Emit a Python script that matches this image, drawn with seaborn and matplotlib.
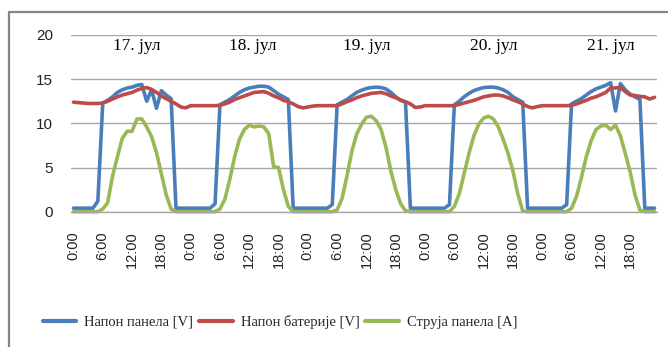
import numpy as np
import pandas as pd
import matplotlib
matplotlib.use("Agg")
import matplotlib.pyplot as plt
from matplotlib.lines import Line2D
import seaborn as sns

# Hourly readings, five days (17-21 July)
napon_panela = [
    0.4, 0.4, 0.4, 0.4, 0.4, 1.2, 12.3, 12.6, 13.0, 13.5, 13.8, 14.0, 14.1, 14.3, 14.4, 12.5, 13.8, 11.7, 13.7, 13.2, 12.8, 0.4, 0.4, 0.4,
    0.4, 0.4, 0.4, 0.4, 0.4, 0.9, 12.1, 12.4, 12.7, 13.1, 13.5, 13.8, 14.0, 14.1, 14.2, 14.2, 14.1, 13.7, 13.3, 13.0, 12.7, 0.4, 0.4, 0.4,
    0.4, 0.4, 0.4, 0.4, 0.4, 0.8, 12.1, 12.4, 12.7, 13.1, 13.5, 13.75, 13.95, 14.05, 14.1, 14.05, 13.9, 13.5, 13.0, 12.6, 12.4, 0.4, 0.4, 0.4,
    0.4, 0.4, 0.4, 0.4, 0.4, 0.8, 12.1, 12.5, 13.0, 13.4, 13.7, 13.9, 14.05, 14.1, 14.1, 14.0, 13.8, 13.5, 13.0, 12.7, 12.4, 0.4, 0.4, 0.4,
    0.4, 0.4, 0.4, 0.4, 0.4, 0.8, 12.2, 12.5, 12.8, 13.2, 13.6, 13.9, 14.1, 14.3, 14.6, 11.4, 14.5, 13.8, 13.3, 13.0, 12.7, 0.4, 0.4, 0.4,
]
napon_baterije = [
    12.4, 12.35, 12.3, 12.25, 12.25, 12.25, 12.3, 12.5, 12.75, 13.0, 13.2, 13.35, 13.5, 13.75, 13.95, 14.05, 13.85, 13.5, 13.1, 12.8, 12.5, 12.2, 11.85, 11.75,
    12.0, 12.0, 12.0, 12.0, 12.0, 12.0, 12.05, 12.2, 12.4, 12.7, 12.9, 13.1, 13.3, 13.5, 13.55, 13.6, 13.4, 13.1, 12.9, 12.6, 12.45, 12.2, 11.9, 11.75,
    11.85, 11.95, 12.0, 12.0, 12.0, 12.0, 12.0, 12.2, 12.45, 12.65, 12.9, 13.1, 13.25, 13.4, 13.45, 13.5, 13.35, 13.1, 12.9, 12.65, 12.45, 12.2, 11.8, 11.85,
    12.0, 12.0, 12.0, 12.0, 12.0, 12.0, 12.0, 12.15, 12.3, 12.45, 12.6, 12.8, 13.0, 13.1, 13.2, 13.2, 13.1, 12.9, 12.65, 12.45, 12.2, 11.9, 11.75, 11.9,
    12.0, 12.0, 12.0, 12.0, 12.0, 12.0, 12.05, 12.2, 12.4, 12.6, 12.85, 13.0, 13.25, 13.5, 14.0, 14.0, 14.05, 13.6, 13.2, 13.15, 13.05, 13.0, 12.75, 12.95,
]
struja_panela = [
    0, 0, 0, 0, 0, 0, 0.3, 1.0, 4.0, 6.2, 8.3, 9.1, 9.1, 10.5, 10.5, 9.6, 8.5, 6.7, 4.3, 1.9, 0.3, 0, 0, 0,
    0, 0, 0, 0, 0, 0, 0.3, 1.4, 3.6, 6.2, 8.2, 9.3, 9.8, 9.6, 9.7, 9.6, 8.8, 5.1, 5.0, 2.5, 0.6, 0, 0, 0,
    0, 0, 0, 0, 0, 0, 0.2, 1.5, 4.0, 6.8, 8.8, 9.9, 10.7, 10.8, 10.3, 9.3, 7.3, 4.6, 2.5, 0.9, 0.1, 0, 0, 0,
    0, 0, 0, 0, 0, 0, 0.6, 2.0, 4.3, 6.6, 8.6, 9.9, 10.6, 10.8, 10.5, 9.6, 8.2, 6.6, 4.6, 2.0, 0.1, 0, 0, 0,
    0, 0, 0, 0, 0, 0, 0.4, 1.7, 3.8, 6.2, 8.0, 9.3, 9.7, 9.8, 9.3, 9.8, 8.6, 6.6, 4.5, 1.9, 0.2, 0, 0, 0,
]
series_names = ["Напон панела [V]", "Напон батерије [V]", "Струја панела [A]"]
series_colors = ["#4A7EBB", "#BE4B48", "#98B954"]
day_labels = ["17. јул", "18. јул", "19. јул", "20. јул", "21. јул"]
day_label_hours = [13.0, 36.8, 60.0, 86.0, 110.0]
tick_hours = list(range(0, 120, 6))
tick_labels = ["0:00", "6:00", "12:00", "18:00"] * 5

hours = np.arange(len(napon_panela))
df = pd.concat([
    pd.DataFrame({"sat": hours, "vrednost": vals, "serija": name})
    for name, vals in zip(series_names, [napon_panela, napon_baterije, struja_panela])
], ignore_index=True)

sns.set_theme(style="white")
plt.rcParams["font.family"] = ["DejaVu Sans"]

W, H = 668, 347
fig = plt.figure(figsize=(W / 100, H / 100), dpi=100)
ax = fig.add_axes([71 / W, 1 - 211.7 / H, (657 - 71) / W, (211.7 - 35) / H])

sns.lineplot(data=df, x="sat", y="vrednost", hue="serija", hue_order=series_names,
             palette=series_colors, linewidth=2.6, ax=ax, legend=False,
             estimator=None, sort=False)
for ln in ax.lines:
    ln.set_solid_joinstyle("round")
    ln.set_solid_capstyle("round")
    ln.set_clip_on(False)

ax.set_xlim(-0.5, 119.5)
ax.set_ylim(0, 20)
ax.set_yticks([0, 5, 10, 15, 20])
ax.set_xticks(tick_hours)
ax.set_xticklabels(tick_labels, rotation=90, va="top", ha="center")
ax.set_xlabel("")
ax.set_ylabel("")
ax.tick_params(axis="y", length=0, pad=13, labelsize=11, labelcolor="#222222")
ax.tick_params(axis="x", length=0, pad=14, labelsize=10.5, labelcolor="#222222")
for lbl in ax.get_yticklabels() + ax.get_xticklabels():
    lbl.set_family("Liberation Sans")

ax.grid(axis="y", color="#A6A6A6", linewidth=1.0)
ax.set_axisbelow(True)
for side in ["left", "right", "top"]:
    ax.spines[side].set_visible(False)
ax.spines["bottom"].set_color("#A6A6A6")
ax.spines["bottom"].set_linewidth(1.0)

for lab, hx in zip(day_labels, day_label_hours):
    ax.text(hx, 18.7, lab, ha="center", va="center", fontsize=12.5,
            family="Liberation Serif", color="black")

handles = [Line2D([0], [0], color=c, linewidth=3) for c in series_colors]
fig.legend(handles, series_names, loc="center", bbox_to_anchor=(280 / W, 1 - 322 / H),
           ncol=3, frameon=False, handlelength=2.3, handletextpad=0.55,
           columnspacing=0.4, prop={"family": "Liberation Serif", "size": 10.5})

# outer chart frame
fig.add_artist(Line2D([9 / W, 9 / W], [0, 1 - 12 / H], color="#868686", linewidth=1.6,
                      transform=fig.transFigure))
fig.add_artist(Line2D([9 / W, 1], [1 - 12 / H, 1 - 12 / H], color="#868686", linewidth=1.6,
                      transform=fig.transFigure))

fig.savefig("out.png", dpi=100)
